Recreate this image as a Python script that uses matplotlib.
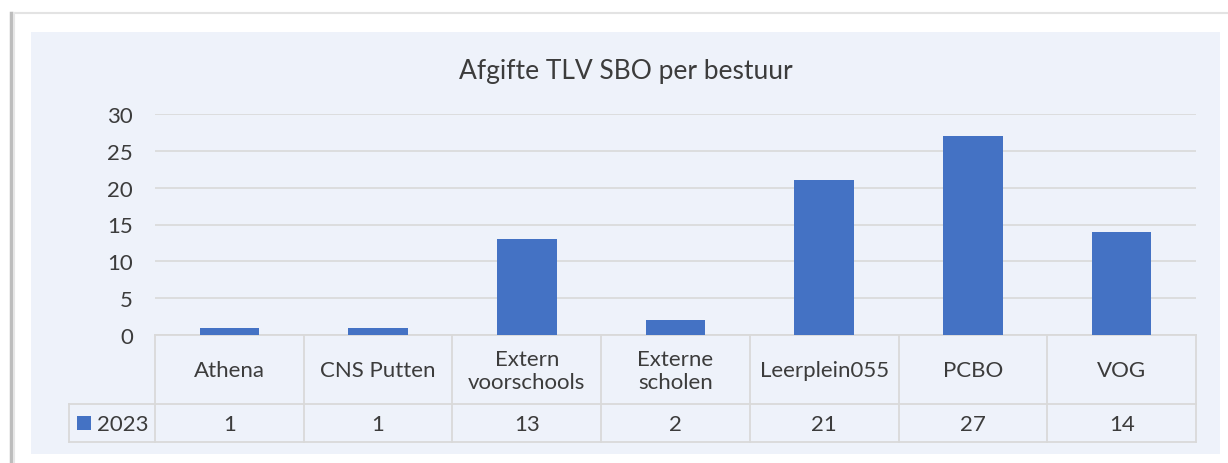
import matplotlib
matplotlib.use("Agg")
import matplotlib.pyplot as plt
from matplotlib.patches import Rectangle

# ---- data ----
categories = ["Athena", "CNS Putten", "Extern\nvoorschools", "Externe\nscholen",
              "Leerplein055", "PCBO", "VOG"]
series_name = "2023"
values = [1, 1, 13, 2, 21, 27, 14]
yticks = [0, 5, 10, 15, 20, 25, 30]
title = "Afgifte TLV SBO per bestuur"

# ---- style ----
W, H = 1228, 464
BAR = "#4472C4"
BG = "#EEF2FA"
GRID = "#D9D9D9"
TXT = "#3C3C3C"
FS = 16
plt.rcParams['font.family'] = ['Lato', 'DejaVu Sans']

fig = plt.figure(figsize=(W / 100, H / 100), dpi=100)
fig.patch.set_facecolor("white")

# overlay in pixel coords for frame, background and table
ov = fig.add_axes([0, 0, 1, 1], zorder=0)
ov.set_xlim(0, W)
ov.set_ylim(H, 0)
ov.axis("off")

# outer frame
ov.plot([12, W], [14, 14], color="#E3E3E3", lw=1.5)
ov.plot([11, 11], [14, H], color="#BDBDBD", lw=2.5)
ov.plot([13.5, 13.5], [14, H], color="#E6E6E6", lw=1.5)
# chart area background
ov.add_patch(Rectangle((31, 33), 1220 - 31, 455 - 33, facecolor=BG, edgecolor="none"))

# plot area geometry (pixels)
px_l, px_r = 155, 1196
py_top, py_bot = 115, 336
ax = fig.add_axes([px_l / W, (H - py_bot) / H, (px_r - px_l) / W, (py_bot - py_top) / H], zorder=1)
ax.set_facecolor("none")
n = len(categories)
x = list(range(n))
ax.bar(x, values, width=0.4, color=BAR, zorder=3)
ax.set_xlim(-0.5, n - 0.5)
ax.set_ylim(0, 30)
ax.set_yticks(yticks)
ax.set_yticklabels([str(t) for t in yticks])
ax.tick_params(axis="y", length=0, pad=16, labelsize=FS, labelcolor=TXT)
ax.set_xticks([])
ax.grid(axis="y", color=GRID, lw=1.2, zorder=0)
for s in ax.spines.values():
    s.set_visible(False)

# title
ov.text((31 + 1220) / 2, 71, title, ha="center", va="center", fontsize=19, color=TXT)

# data table
colw = (px_r - px_l) / n
row1_b = 405
row2_b = 443
leg_l = 69
lc = dict(color=GRID, lw=1.3)
# horizontal lines
ov.plot([px_l, px_r], [py_bot, py_bot], **lc)
ov.plot([leg_l, px_r], [row1_b, row1_b], **lc)
ov.plot([leg_l, px_r], [row2_b, row2_b], **lc)
# vertical lines
for i in range(n + 1):
    xx = px_l + i * colw
    ov.plot([xx, xx], [py_bot, row2_b], **lc)
ov.plot([leg_l, leg_l], [row1_b, row2_b], **lc)

for i, (c, v) in enumerate(zip(categories, values)):
    cx = px_l + (i + 0.5) * colw
    ov.text(cx, (py_bot + row1_b) / 2 + 1, c, ha="center", va="center", fontsize=FS,
            color=TXT, linespacing=1.2)
    ov.text(cx, (row1_b + row2_b) / 2 + 1, str(v), ha="center", va="center", fontsize=FS,
            color=TXT)

# legend key in table
ov.add_patch(Rectangle((77, 417), 14, 14, facecolor=BAR, edgecolor="none"))
ov.text(97, (row1_b + row2_b) / 2 + 1, series_name, ha="left", va="center", fontsize=FS, color=TXT)

fig.savefig("out.png", dpi=100, facecolor="white")
